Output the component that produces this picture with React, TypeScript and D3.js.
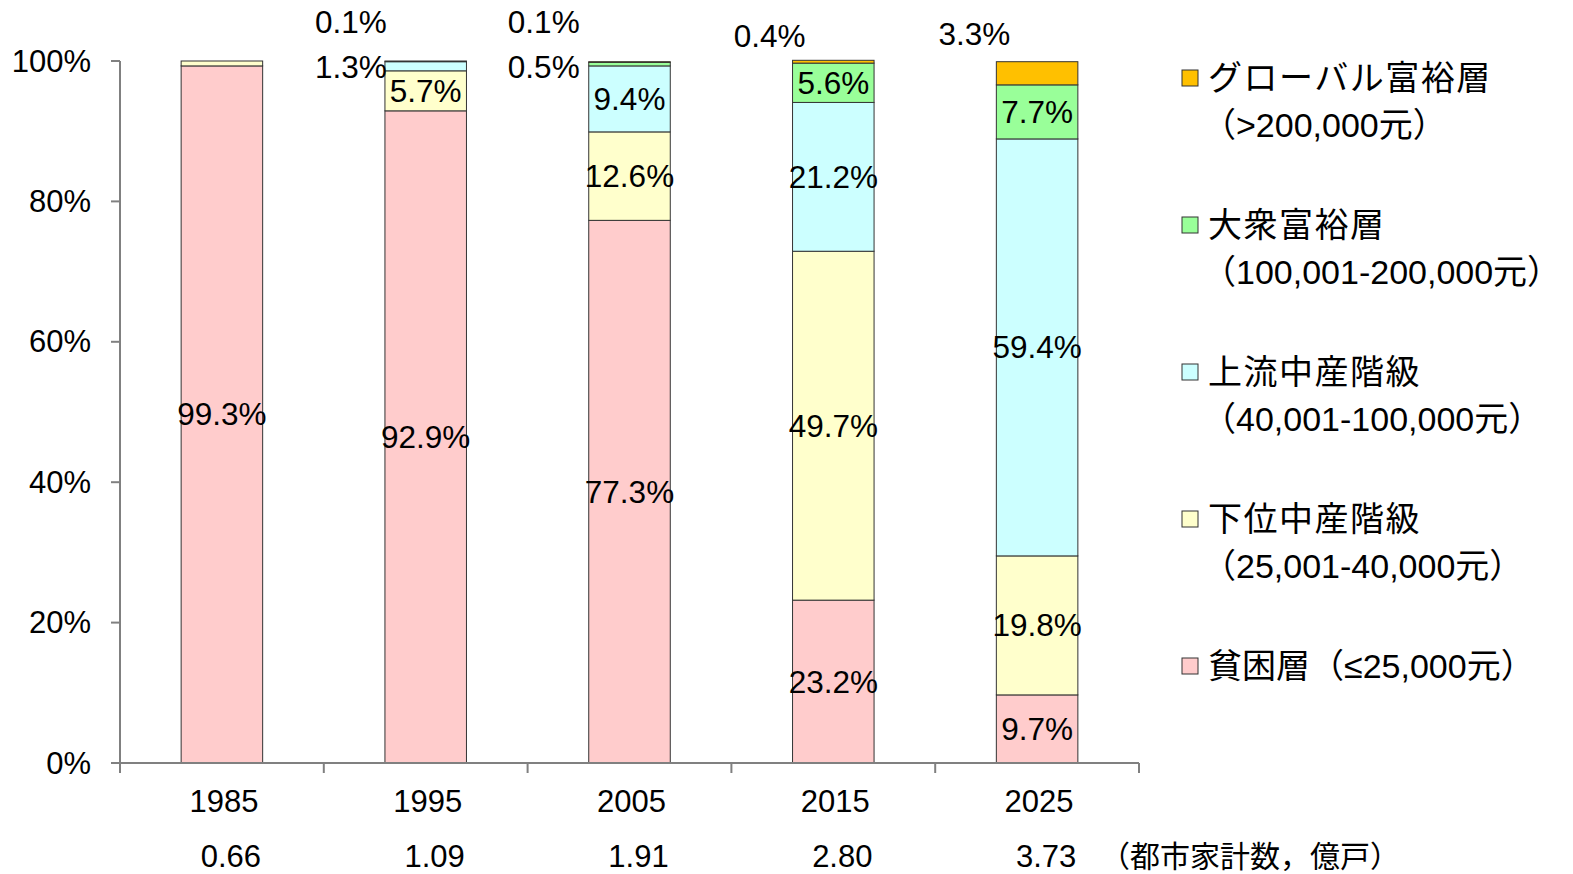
import React from "react";
import * as d3 from "d3";

const years = ["1985", "1995", "2005", "2015", "2025"];
const households = ["0.66", "1.09", "1.91", "2.80", "3.73"];

// bottom to top
const seriesKeys = ["poor", "lower", "upper", "mass", "global"];
const poor = [99.3, 92.9, 77.3, 23.2, 9.7];
const lower = [0.7, 5.7, 12.6, 49.7, 19.8];
const upper = [0, 1.3, 9.4, 21.2, 59.4];
const mass = [0, 0.1, 0.5, 5.6, 7.7];
const global = [0, 0, 0.1, 0.4, 3.3];

const colors = ["#FFCCCC", "#FFFFCC", "#CCFFFF", "#99FF99", "#FFC000"];

const legendItems = [
  { key: "global", lines: ["グローバル富裕層", "（>200,000元）"] },
  { key: "mass", lines: ["大衆富裕層", "（100,001-200,000元）"] },
  { key: "upper", lines: ["上流中産階級", "（40,001-100,000元）"] },
  { key: "lower", lines: ["下位中産階級", "（25,001-40,000元）"] },
  { key: "poor", lines: ["貧困層（≤25,000元）"] },
];

const yTicks = [0, 20, 40, 60, 80, 100];

// small segments whose labels sit outside the bar, top-left
const outsideLabels = [
  { year: "1995", key: "mass", dx: -34, dy: -39 },
  { year: "1995", key: "upper", dx: -34, dy: 6 },
  { year: "2005", key: "global", dx: -45, dy: -39 },
  { year: "2005", key: "mass", dx: -45, dy: 6 },
  { year: "2015", key: "global", dx: -23, dy: -25 },
  { year: "2025", key: "global", dx: -22, dy: -27 },
];

const FONT = "'Liberation Sans', Arial, 'Noto Sans CJK JP', sans-serif";
const CJK = "'Liberation Sans', 'Noto Sans CJK JP', sans-serif";

const App = () => {
  const width = 1573;
  const height = 874;
  const margins = { top: 61, bottom: 111, left: 120, right: 434 };

  const table = years.map((year, i) => ({
    year,
    poor: poor[i],
    lower: lower[i],
    upper: upper[i],
    mass: mass[i],
    global: global[i],
  }));

  const stacked = d3.stack().keys(seriesKeys)(table as any);

  const xScale = d3
    .scaleBand()
    .domain(years)
    .range([margins.left, width - margins.right])
    .paddingInner(0.6)
    .paddingOuter(0.3);

  const yScale = d3
    .scaleLinear()
    .domain([0, 100])
    .range([height - margins.bottom, margins.top]);

  const step = xScale.step();
  const bandStart = (y: string) => xScale(y)! - (step - xScale.bandwidth()) / 2;
  const colorScale = d3.scaleOrdinal<string>().domain(seriesKeys).range(colors);

  const isOutside = (year: string, key: string) =>
    outsideLabels.some((o) => o.year === year && o.key === key);

  const y0 = yScale(0);

  return (
    <div style={{ position: "absolute", left: 0, top: 0 }}>
      <svg width={width} height={height} style={{ display: "block" }}>
        <rect width={width} height={height} fill="#fff" />
        {/* bars */}
        {stacked.map((layer, li) => (
          <g key={layer.key}>
            {layer.map((d, i) => {
              const v = d[1] - d[0];
              if (v <= 0) return null;
              return (
                <rect
                  key={years[i]}
                  x={xScale(years[i])}
                  y={yScale(d[1])}
                  width={xScale.bandwidth()}
                  height={yScale(d[0]) - yScale(d[1])}
                  fill={colors[li]}
                  stroke="#333"
                  strokeWidth={1}
                />
              );
            })}
          </g>
        ))}
        {/* inside labels */}
        {stacked.map((layer) =>
          layer.map((d, i) => {
            const v = d[1] - d[0];
            if (v < 1 || isOutside(years[i], layer.key)) return null;
            return (
              <text
                key={layer.key + years[i]}
                x={xScale(years[i])! + xScale.bandwidth() / 2}
                y={yScale((d[0] + d[1]) / 2)}
                textAnchor="middle"
                dominantBaseline="central"
                fontFamily={FONT}
                fontSize={31.5}
                fill="#000"
              >
                {v.toFixed(1)}%
              </text>
            );
          })
        )}
        {/* outside labels */}
        {outsideLabels.map((o) => {
          const li = seriesKeys.indexOf(o.key);
          const i = years.indexOf(o.year);
          const v = stacked[li][i][1] - stacked[li][i][0];
          return (
            <text
              key={o.year + o.key}
              x={xScale(o.year)! + o.dx}
              y={yScale(100) + o.dy}
              textAnchor="middle"
              dominantBaseline="central"
              fontFamily={FONT}
              fontSize={31.5}
            >
              {v.toFixed(1)}%
            </text>
          );
        })}
        {/* y axis */}
        <line x1={margins.left} x2={margins.left} y1={yScale(100)} y2={y0} stroke="#808080" strokeWidth={2} />
        {yTicks.map((t) => (
          <g key={t}>
            <line x1={margins.left - 9} x2={margins.left} y1={yScale(t)} y2={yScale(t)} stroke="#808080" strokeWidth={2} />
            <text
              x={margins.left - 29}
              y={yScale(t)}
              textAnchor="end"
              dominantBaseline="central"
              fontFamily={FONT}
              fontSize={31}
            >
              {t}%
            </text>
          </g>
        ))}
        {/* x axis */}
        <line x1={margins.left} x2={width - margins.right} y1={y0} y2={y0} stroke="#808080" strokeWidth={2} />
        {[...years.map(bandStart), width - margins.right].map((x, i) => (
          <line key={i} x1={x} x2={x} y1={y0} y2={y0 + 10} stroke="#808080" strokeWidth={2} />
        ))}
        {years.map((y, i) => (
          <g key={y}>
            <text
              x={xScale(y)! + xScale.bandwidth() / 2 + 2}
              y={801}
              textAnchor="middle"
              dominantBaseline="central"
              fontFamily={FONT}
              fontSize={31}
            >
              {y}
            </text>
            <text
              x={xScale(y)! + xScale.bandwidth() / 2 + 9}
              y={856}
              textAnchor="middle"
              dominantBaseline="central"
              fontFamily={FONT}
              fontSize={31}
            >
              {households[i]}
            </text>
          </g>
        ))}
        <text x={1100} y={856} dominantBaseline="central" fontFamily={CJK} fontSize={30}>
          （都市家計数，億戸）
        </text>
        {/* legend */}
        {legendItems.map((item, k) => {
          const top = 78 + k * 147;
          return (
            <g key={item.key}>
              <rect
                x={1182}
                y={top - 8}
                width={16}
                height={16}
                fill={colorScale(item.key)}
                stroke="#333"
                strokeWidth={1}
              />
              {item.lines.map((line, j) => (
                <text
                  key={j}
                  x={line.startsWith("（") ? 1202 : 1208}
                  y={top + j * 47}
                  dominantBaseline="central"
                  fontFamily={CJK}
                  fontSize={34}
                  letterSpacing={j === 0 && k < 4 ? 1.5 : 0}
                >
                  {line}
                </text>
              ))}
            </g>
          );
        })}
      </svg>
    </div>
  );
};

export default App;
